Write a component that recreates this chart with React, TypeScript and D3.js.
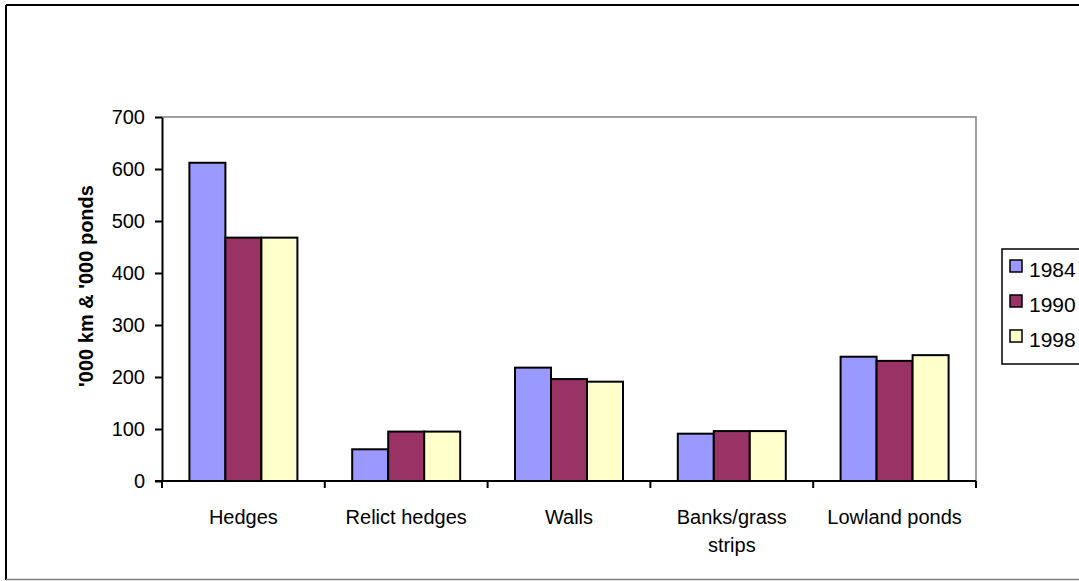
import React, { useEffect, useRef } from 'react';
import * as d3 from 'd3';

// data
const categories = ['Hedges', 'Relict hedges', 'Walls', 'Banks/grass strips', 'Lowland ponds'];
const categoryLines = [['Hedges'], ['Relict hedges'], ['Walls'], ['Banks/grass', 'strips'], ['Lowland ponds']];
const years = ['1984', '1990', '1998'];
const values1984 = [612, 61, 218, 91, 239];
const values1990 = [468, 95, 196, 96, 231];
const values1998 = [468, 95, 191, 96, 242];
const yTicks = [0, 100, 200, 300, 400, 500, 600, 700];
const yTitle = "'000 km & '000 ponds";
const colors = ['#9999FF', '#993366', '#FFFFCC'];

const W = 1079;
const H = 581;
const FONT = '"Liberation Sans", Arial, sans-serif';

const App = () => {
  const svgRef = useRef<SVGSVGElement>(null);

  useEffect(() => {
    const svg = d3.select(svgRef.current);
    svg.selectAll('*').remove();

    const left = 162, right = 976, top = 117, bottom = 481;
    const series = [values1984, values1990, values1998];

    // outer frame (clipped on the right like the original)
    svg.append('line').attr('x1', 6).attr('x2', W).attr('y1', 5).attr('y2', 5)
      .attr('stroke', '#000').attr('stroke-width', 2);
    svg.append('line').attr('x1', 6).attr('x2', 6).attr('y1', 5).attr('y2', 580)
      .attr('stroke', '#000').attr('stroke-width', 2);
    svg.append('line').attr('x1', 6).attr('x2', W).attr('y1', 579.5).attr('y2', 579.5)
      .attr('stroke', '#808080').attr('stroke-width', 1.5);

    const p = 54.8 / 162.8;
    const x0 = d3.scaleBand().domain(categories).range([left, right])
      .paddingInner(p).paddingOuter(p / 2);
    const x1 = d3.scaleBand().domain(years).range([0, x0.bandwidth()]);
    const y = d3.scaleLinear().domain([0, 700]).range([bottom, top]);

    // plot area border (top + right in grey)
    svg.append('path')
      .attr('d', `M${left},${top}H${right}V${bottom}`)
      .attr('fill', 'none').attr('stroke', '#808080').attr('stroke-width', 1.5);

    // bars
    const groups = svg.append('g').selectAll('g').data(categories).join('g')
      .attr('transform', d => `translate(${x0(d)},0)`);
    groups.selectAll('rect')
      .data((d, i) => years.map((yr, k) => ({ yr, v: series[k][i], k })))
      .join('rect')
      .attr('x', d => x1(d.yr)!)
      .attr('y', d => y(d.v))
      .attr('width', x1.bandwidth())
      .attr('height', d => bottom - y(d.v))
      .attr('fill', d => colors[d.k])
      .attr('stroke', '#000').attr('stroke-width', 2);

    // y axis
    const yAxis = svg.append('g').attr('transform', `translate(${left},0)`)
      .call(d3.axisLeft(y).tickValues(yTicks).tickSize(7).tickSizeOuter(0).tickPadding(10));
    yAxis.select('.domain').attr('stroke', '#000').attr('stroke-width', 2);
    yAxis.selectAll('.tick line').attr('stroke', '#000').attr('stroke-width', 2);
    yAxis.selectAll('.tick text').attr('font-family', FONT).attr('font-size', 20)
      .attr('fill', '#000');

    // x axis line with category boundary ticks
    svg.append('line').attr('x1', left - 7).attr('x2', right).attr('y1', bottom).attr('y2', bottom)
      .attr('stroke', '#000').attr('stroke-width', 2);
    const bounds = d3.range(categories.length + 1).map(i => left + i * x0.step());
    svg.append('g').selectAll('line').data(bounds).join('line')
      .attr('x1', d => d).attr('x2', d => d)
      .attr('y1', bottom).attr('y2', bottom + 7)
      .attr('stroke', '#000').attr('stroke-width', 2);

    // category labels
    const lbl = svg.append('g').selectAll('text').data(categories).join('text')
      .attr('x', d => x0(d)! + x0.bandwidth() / 2)
      .attr('y', 524)
      .attr('text-anchor', 'middle')
      .attr('font-family', FONT).attr('font-size', 20).attr('fill', '#000');
    lbl.selectAll('tspan').data((d, i) => categoryLines[i]).join('tspan')
      .attr('x', function () { return (this.parentNode as SVGTextElement).getAttribute('x'); })
      .attr('dy', (d, i) => (i === 0 ? 0 : 28))
      .text(d => d);

    // y title
    svg.append('text')
      .attr('transform', `translate(86,286) rotate(-90)`)
      .attr('text-anchor', 'middle').attr('dominant-baseline', 'central')
      .attr('font-family', FONT).attr('font-size', 20).attr('font-weight', 'bold')
      .attr('fill', '#000')
      .text(yTitle);

    // legend
    const lg = svg.append('g');
    lg.append('rect').attr('x', 1002).attr('y', 249).attr('width', 120).attr('height', 115)
      .attr('fill', '#fff').attr('stroke', '#000').attr('stroke-width', 1.5);
    const items = lg.selectAll('g').data(years).join('g')
      .attr('transform', (d, i) => `translate(1010,${260 + i * 35})`);
    items.append('rect').attr('width', 12).attr('height', 12)
      .attr('fill', (d, i) => colors[i]).attr('stroke', '#000').attr('stroke-width', 1.5);
    items.append('text').attr('x', 19).attr('y', 17)
      .attr('font-family', FONT).attr('font-size', 21).attr('fill', '#000')
      .text(d => d);
  }, []);

  return (
    <svg ref={svgRef} width={W} height={H}
      style={{ position: 'absolute', left: 0, top: 0, background: '#fff' }} />
  );
};

export default App;
